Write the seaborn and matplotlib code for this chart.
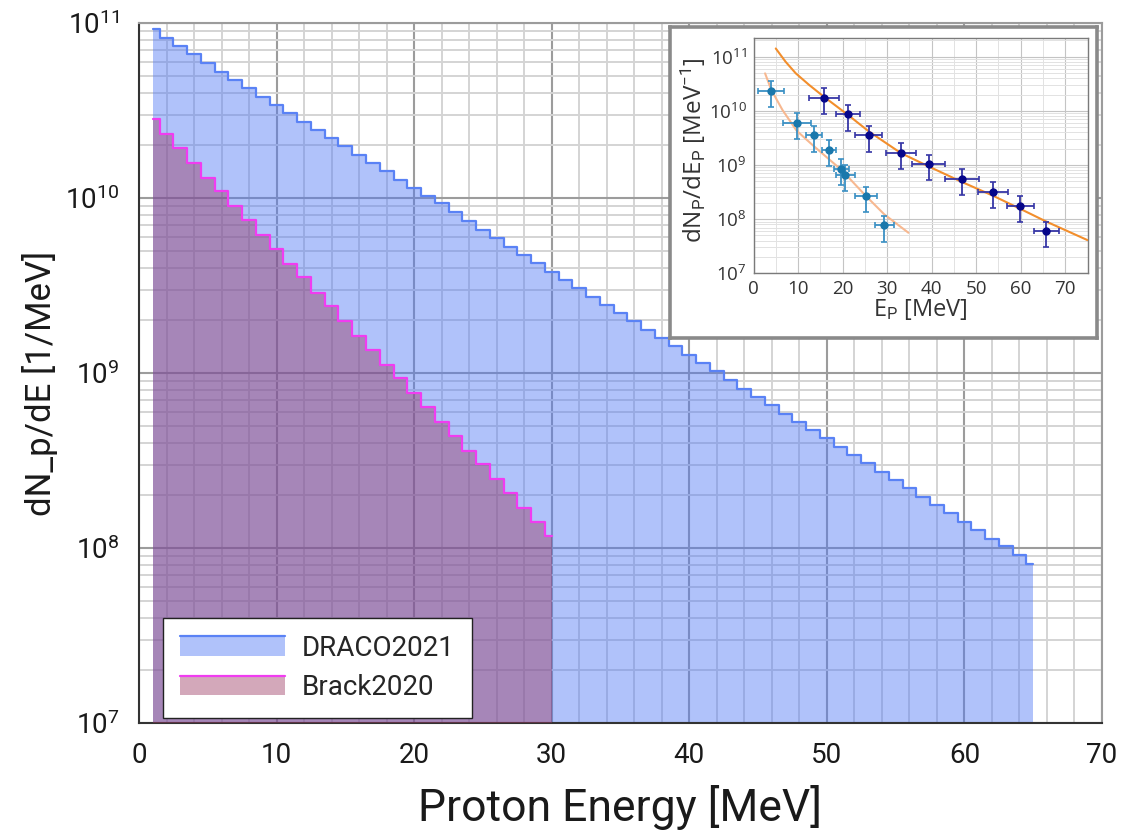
import numpy as np
import matplotlib
matplotlib.use("Agg")
import matplotlib.pyplot as plt
from matplotlib import font_manager
from matplotlib.ticker import MultipleLocator, LogLocator, NullFormatter
from matplotlib.patches import Rectangle
from matplotlib.lines import Line2D
from matplotlib.legend_handler import HandlerBase
import seaborn as sns

# ---------------- main spectra (1 MeV bins, centred on integer energies) ----------------
energy_draco = list(range(1, 66))
dndE_draco = [
    9.25e10, 8.18e10, 7.36e10, 6.62e10, 5.89e10, 5.27e10, 4.74e10, 4.27e10, 3.78e10, 3.40e10,
    3.06e10, 2.73e10, 2.45e10, 2.20e10, 1.97e10, 1.75e10, 1.58e10, 1.42e10, 1.27e10, 1.14e10,
    1.02e10, 9.33e9, 8.28e9, 7.40e9, 6.56e9, 5.89e9, 5.25e9, 4.74e9, 4.27e9, 3.79e9,
    3.40e9, 3.06e9, 2.73e9, 2.45e9, 2.19e9, 1.97e9, 1.76e9, 1.58e9, 1.43e9, 1.26e9,
    1.14e9, 1.02e9, 9.12e8, 8.13e8, 7.29e8, 6.56e8, 5.85e8, 5.27e8, 4.72e8, 4.27e8,
    3.79e8, 3.40e8, 3.05e8, 2.72e8, 2.45e8, 2.19e8, 1.96e8, 1.76e8, 1.58e8, 1.41e8,
    1.27e8, 1.13e8, 1.02e8, 9.12e7, 8.11e7,
]

energy_brack = list(range(1, 31))
dndE_brack = [
    2.82e10, 2.32e10, 1.92e10, 1.59e10, 1.30e10, 1.09e10, 8.98e9, 7.48e9, 6.15e9, 5.13e9,
    4.22e9, 3.54e9, 2.88e9, 2.40e9, 1.99e9, 1.63e9, 1.36e9, 1.11e9, 9.33e8, 7.66e8,
    6.41e8, 5.25e8, 4.39e8, 3.60e8, 3.01e8, 2.47e8, 2.07e8, 1.70e8, 1.40e8, 1.17e8,
]

labels = ["DRACO2021", "Brack2020"]

# ---------------- inset: measured spectra with error bars and fits ----------------
pts_hi_E = [15.75, 21.3, 25.9, 33.1, 39.3, 46.8, 53.7, 59.9, 65.7]
pts_hi_Eerr = [3.35, 2.7, 3.05, 3.4, 3.6, 3.75, 3.4, 3.05, 2.8]
pts_hi_N = [1.76e10, 8.69e9, 3.56e9, 1.69e9, 1.03e9, 5.6e8, 3.18e8, 1.76e8, 6.0e7]
pts_hi_Nerr = [8.8e9, 4.4e9, 1.8e9, 8.4e8, 5.0e8, 2.8e8, 1.6e8, 8.7e7, 3.0e7]

pts_lo_E = [3.9, 9.7, 13.6, 16.9, 19.7, 20.6, 25.3, 29.4]
pts_lo_Eerr = [2.85, 3.1, 1.85, 1.55, 1.65, 2.15, 2.45, 2.1]
pts_lo_N = [2.37e10, 6.0e9, 3.56e9, 1.89e9, 8.6e8, 6.55e8, 2.65e8, 7.76e7]
pts_lo_Nerr = [1.17e10, 3.0e9, 1.8e9, 9.5e8, 4.3e8, 3.3e8, 1.3e8, 3.9e7]

fit_hi_E = [5.0, 7.2, 9.5, 12.5, 15.75, 21.3, 25.9, 33.1, 39.3, 46.8, 53.7, 59.9, 65.7, 75.0]
fit_hi_N = [1.42e11, 8.09e10, 4.93e10, 3.01e10, 1.84e10, 8.32e9, 4.17e9, 1.66e9, 9.44e8,
            4.86e8, 2.73e8, 1.55e8, 9.06e7, 4.10e7]
fit_lo_E = [2.6, 4.0, 6.5, 9.7, 13.6, 16.9, 19.7, 25.3, 29.4, 34.8]
fit_lo_N = [4.93e10, 2.44e10, 1.04e10, 4.29e9, 2.21e9, 1.29e9, 8.20e8, 2.65e8, 1.22e8, 5.60e7]

# ---------------- style ----------------
sns.set_style("whitegrid")
available = {f.name for f in font_manager.fontManager.ttflist}
narrow = "Liberation Sans Narrow" if "Liberation Sans Narrow" in available else "Roboto"
plt.rcParams["font.family"] = ["Roboto", "DejaVu Sans"]
plt.rcParams["mathtext.fontset"] = "custom"
plt.rcParams["mathtext.rm"] = "Roboto"
plt.rcParams["mathtext.it"] = "Roboto:italic"
plt.rcParams["mathtext.bf"] = "Roboto:bold"

BLUE_FILL = "#5078f5"
BLUE_LINE = "#5a82f5"
PINK_FILL = "#9b3761"
PINK_LINE = "#f03cf0"
FLOOR = 1e7
INSET_FONT = ["Open Sans", "DejaVu Sans"]

W, H = 1127, 834
fig = plt.figure(figsize=(W / 100, H / 100), dpi=100)
fig.patch.set_facecolor("white")

ax = fig.add_axes([139 / W, 1 - 723 / H, 963 / W, 700 / H])
ax.set_yscale("log")
ax.set_xlim(0, 70)
ax.set_ylim(1e7, 1e11)
ax.set_facecolor("white")
ax.set_axisbelow(True)

ax.fill_between(energy_draco, dndE_draco, FLOOR, step="mid", color=BLUE_FILL,
                alpha=0.45, lw=0, zorder=2)
sns.lineplot(x=energy_draco, y=dndE_draco, ax=ax, drawstyle="steps-mid",
             color=BLUE_LINE, lw=1.6, estimator=None, legend=False, zorder=3)
ax.fill_between(energy_brack, dndE_brack, FLOOR, step="mid", color=PINK_FILL,
                alpha=0.43, lw=0, zorder=4)
sns.lineplot(x=energy_brack, y=dndE_brack, ax=ax, drawstyle="steps-mid",
             color=PINK_LINE, lw=1.6, estimator=None, legend=False, zorder=5)

ax.xaxis.set_major_locator(MultipleLocator(10))
ax.xaxis.set_minor_locator(MultipleLocator(2))
ax.yaxis.set_major_locator(LogLocator(base=10, numticks=12))
ax.yaxis.set_minor_locator(LogLocator(base=10, subs=np.arange(2, 10), numticks=12))
ax.yaxis.set_minor_formatter(NullFormatter())
ax.grid(which="major", color="#9c9c9c", lw=1.5)
ax.grid(which="minor", color="#d4d4d4", lw=1.4)
ax.tick_params(which="major", direction="out", length=8, width=1.3, color="#333333",
               labelsize=20, labelcolor="#1a1a1a", pad=6)
ax.tick_params(which="minor", length=0)
for side in ("left", "bottom"):
    ax.spines[side].set_color("#333333")
    ax.spines[side].set_linewidth(1.5)
for side in ("top", "right"):
    ax.spines[side].set_color("#9c9c9c")
    ax.spines[side].set_linewidth(1.5)

ax.set_xlabel("Proton Energy [MeV]", fontsize=32, color="#1a1a1a")
ax.xaxis.set_label_coords((620 - 139) / 963, (723 - 807) / 700)
ax.xaxis.label.set_va("center")
ax.set_ylabel("dN_p/dE [1/MeV]", fontsize=25, family=narrow, color="#1a1a1a")
ax.yaxis.set_label_coords((40 - 139) / 963, (723 - 383) / 700)
ax.yaxis.label.set_va("center")


# legend entries: translucent box with the step colour along its top edge
class StepFill:
    def __init__(self, face, edge, alpha):
        self.face, self.edge, self.alpha = face, edge, alpha


class StepFillHandler(HandlerBase):
    def create_artists(self, legend, orig_handle, xdescent, ydescent, width, height,
                       fontsize, trans):
        x0, y0 = -xdescent, -ydescent
        rect = Rectangle((x0, y0), width, height, facecolor=orig_handle.face,
                         alpha=orig_handle.alpha, lw=0, transform=trans)
        top = Line2D([x0, x0 + width], [y0 + height, y0 + height], color=orig_handle.edge,
                     lw=1.6, transform=trans)
        return [rect, top]


handles = [StepFill(BLUE_FILL, BLUE_LINE, 0.45), StepFill(PINK_FILL, PINK_LINE, 0.43)]
leg = ax.legend(handles, labels, handler_map={StepFill: StepFillHandler()},
                loc="lower left", bbox_to_anchor=(0.025, 0.007), borderaxespad=0,
                fontsize=20, handlelength=3.8, handleheight=0.7, labelspacing=0.45,
                handletextpad=0.6, borderpad=0.6, fancybox=False, framealpha=1,
                edgecolor="#222222")
leg.get_frame().set_linewidth(1.0)
leg.set_zorder(10)

# ---------------- inset panel ----------------
frame = fig.add_axes([670 / W, 1 - 338 / H, 427 / W, 311 / H])
frame.set_facecolor("white")
frame.set_xticks([])
frame.set_yticks([])
frame.grid(False)
for s in frame.spines.values():
    s.set_color("#8a8a8a")
    s.set_linewidth(2.6)
frame.set_zorder(20)

ins = fig.add_axes([753.5 / W, 1 - 273.3 / H, 334 / W, 235 / H])
ins.set_zorder(21)
ins.set_facecolor("white")
ins.set_yscale("log")
ins.set_xlim(0, 75)
ins.set_ylim(1e7, 2.19e11)
ins.set_axisbelow(True)
ins.xaxis.set_major_locator(MultipleLocator(10))
ins.xaxis.set_minor_locator(MultipleLocator(5))
ins.yaxis.set_major_locator(LogLocator(base=10, numticks=12))
ins.yaxis.set_minor_locator(LogLocator(base=10, subs=np.arange(2, 10), numticks=12))
ins.yaxis.set_minor_formatter(NullFormatter())
ins.grid(which="major", color="#c4c4c4", lw=0.8)
ins.grid(which="minor", color="#e2e2e2", lw=0.7)
ins.tick_params(which="major", direction="in", length=3, width=0.8, color="#777777",
                labelsize=13.5, labelcolor="#333333", pad=5)
ins.tick_params(which="minor", direction="in", length=1.5, width=0.6, color="#999999")
for s in ins.spines.values():
    s.set_color("#7a7a7a")
    s.set_linewidth(1.0)
for lab in ins.get_xticklabels() + ins.get_yticklabels():
    lab.set_family(INSET_FONT)

sns.lineplot(x=fit_lo_E, y=fit_lo_N, ax=ins, color="#f7b890", lw=1.5, estimator=None,
             legend=False, zorder=3)
sns.lineplot(x=fit_hi_E, y=fit_hi_N, ax=ins, color="#f28e2c", lw=1.5, estimator=None,
             legend=False, zorder=3)
ins.errorbar(pts_lo_E, pts_lo_N, xerr=pts_lo_Eerr, yerr=pts_lo_Nerr, fmt="o", ms=5,
             color="#1a78ac", ecolor="#3a90c4", elinewidth=1.3, capsize=2.5, capthick=1.2,
             zorder=4)
ins.errorbar(pts_hi_E, pts_hi_N, xerr=pts_hi_Eerr, yerr=pts_hi_Nerr, fmt="o", ms=5,
             color="#06068a", ecolor="#3636a6", elinewidth=1.3, capsize=2.5, capthick=1.2,
             zorder=4)

ins.set_xlabel(r"E$_\mathrm{P}$ [MeV]", fontsize=17, color="#333333", family=INSET_FONT)
ins.xaxis.set_label_coords((920 - 753.5) / 334, (273.3 - 310) / 235)
ins.xaxis.label.set_va("center")
ins.set_ylabel(r"dN$_\mathrm{P}$/dE$_\mathrm{P}$ [MeV$^{\mathrm{-1}}$]", fontsize=17.5,
               color="#333333", family=INSET_FONT)
ins.yaxis.set_label_coords((693 - 753.5) / 334, (273.3 - 150) / 235)
ins.yaxis.label.set_va("center")

fig.savefig("out.png", dpi=100, facecolor="white")
